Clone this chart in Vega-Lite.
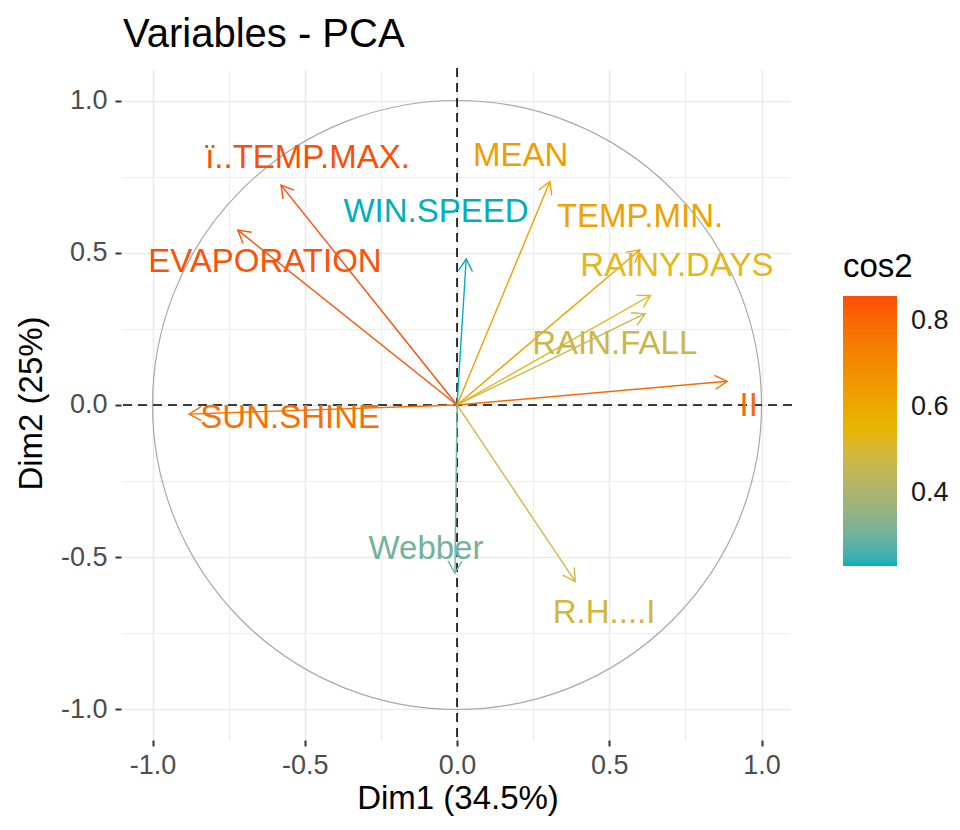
{
  "$schema": "https://vega.github.io/schema/vega-lite/v6.json",
  "width": 669,
  "height": 670,
  "autosize": "none",
  "padding": {"left": 123, "top": 68, "right": 168, "bottom": 92},
  "background": "white",
  "title": {"text": "Variables - PCA", "anchor": "start", "frame": "group", "fontSize": 40, "font": "Liberation Sans", "fontWeight": "normal", "color": "#000000", "offset": 12},
  "config": {
    "view": {"stroke": null},
    "axis": {
      "labelFont": "Liberation Sans", "labelFontSize": 27, "labelColor": "#4d4d4d",
      "titleFont": "Liberation Sans", "titleFontSize": 33, "titleFontWeight": "normal", "titleColor": "#000000",
      "domain": false, "tickColor": "#333333", "tickWidth": 2, "tickSize": 6, "offset": 2,
      "gridColor": "#ebebeb"
    },
    "legend": {"titleFont": "Liberation Sans", "labelFont": "Liberation Sans"}
  },
  "resolve": {"legend": {"color": "independent"}},
  "datasets": {
    "vars": [
      {"name": "ï..TEMP.MAX.", "x": -0.578, "y": 0.723, "cos2": 0.857, "lx": -0.491, "ly": 0.8125},
      {"name": "EVAPORATION", "x": -0.72, "y": 0.575, "cos2": 0.849, "lx": -0.631, "ly": 0.47},
      {"name": "SUN.SHINE", "x": -0.88, "y": -0.03, "cos2": 0.775, "lx": -0.548, "ly": -0.043},
      {"name": "WIN.SPEED", "x": 0.03, "y": 0.48, "cos2": 0.231, "lx": -0.069, "ly": 0.635},
      {"name": "MEAN", "x": 0.305, "y": 0.735, "cos2": 0.633, "lx": 0.209, "ly": 0.819},
      {"name": "TEMP.MIN.", "x": 0.6, "y": 0.51, "cos2": 0.62, "lx": 0.601, "ly": 0.618},
      {"name": "RAINY.DAYS", "x": 0.635, "y": 0.36, "cos2": 0.533, "lx": 0.722, "ly": 0.457},
      {"name": "RAIN.FALL", "x": 0.617, "y": 0.3, "cos2": 0.471, "lx": 0.518, "ly": 0.201},
      {"name": "II", "x": 0.887, "y": 0.078, "cos2": 0.793, "lx": 0.958, "ly": -0.003},
      {"name": "Webber", "x": -0.007, "y": -0.553, "cos2": 0.306, "lx": -0.102, "ly": -0.474},
      {"name": "R.H....I", "x": 0.388, "y": -0.58, "cos2": 0.487, "lx": 0.483, "ly": -0.684}
    ],
    "origin": [{"x": 0, "y": 0}]
  },
  "layer": [
    {
      "data": {"name": "origin"},
      "mark": {"type": "point", "shape": "circle", "size": 370881, "filled": false, "stroke": "#a8a8a8", "strokeWidth": 1.2, "opacity": 1},
      "encoding": {
        "x": {"field": "x", "type": "quantitative", "scale": {"domain": [-1.097, 1.1], "nice": false, "zero": false},
          "title": "Dim1 (34.5%)",
          "axis": {"values": [-1, -0.75, -0.5, -0.25, 0, 0.25, 0.5, 0.75, 1],
            "labelExpr": "datum.value % 0.5 == 0 ? replace(format(datum.value, '.1f'), '\u2212', '-') : ''",
            "tickOpacity": {"condition": {"test": "datum.value % 0.5 == 0", "value": 1}, "value": 0},
            "gridWidth": {"condition": {"test": "datum.value % 0.5 == 0", "value": 1.6}, "value": 0.9},
            "labelPadding": 6, "titlePadding": 4}},
        "y": {"field": "y", "type": "quantitative", "scale": {"domain": [-1.095, 1.108], "nice": false, "zero": false},
          "title": "Dim2 (25%)",
          "axis": {"values": [-1, -0.75, -0.5, -0.25, 0, 0.25, 0.5, 0.75, 1],
            "labelExpr": "datum.value % 0.5 == 0 ? replace(format(datum.value, '.1f'), '\u2212', '-') : ''",
            "tickOpacity": {"condition": {"test": "datum.value % 0.5 == 0", "value": 1}, "value": 0},
            "gridWidth": {"condition": {"test": "datum.value % 0.5 == 0", "value": 1.6}, "value": 0.9},
            "labelPadding": 8, "titlePadding": 12}}
      }
    },
    {
      "data": {"name": "origin"},
      "mark": {"type": "rule", "color": "#000000", "strokeWidth": 1.6, "strokeDash": [9, 6]},
      "encoding": {"x": {"field": "x", "type": "quantitative"}}
    },
    {
      "data": {"name": "origin"},
      "mark": {"type": "rule", "color": "#000000", "strokeWidth": 1.6, "strokeDash": [9, 6]},
      "encoding": {"y": {"field": "y", "type": "quantitative"}}
    },
    {
      "data": {"name": "vars"},
      "mark": {"type": "rule", "strokeWidth": 1.4},
      "encoding": {
        "x": {"field": "x", "type": "quantitative"},
        "y": {"field": "y", "type": "quantitative"},
        "x2": {"datum": 0},
        "y2": {"datum": 0},
        "color": {"field": "cos2", "type": "quantitative",
          "scale": {"domain": [0.231, 0.544, 0.857], "range": ["#00AFBB", "#E7B800", "#FC4E07"], "interpolate": "lab"},
          "legend": {"type": "gradient", "title": "cos2", "orient": "none", "legendX": 720, "legendY": 183, "direction": "vertical",
            "values": [0.4, 0.6, 0.8], "format": ".1f",
            "gradientLength": 270, "gradientThickness": 54, "gradientStrokeWidth": 0,
            "titleFontSize": 33, "titleFontWeight": "normal", "titleColor": "#000000", "titlePadding": 12,
            "labelFontSize": 27, "labelColor": "#1a1a1a", "labelOffset": 14}}
      }
    },
    {
      "data": {"name": "vars"},
      "mark": {"type": "point", "shape": "M-0.5,0.866L0,0L0.5,0.866", "size": 784, "filled": false, "strokeWidth": 1.4, "opacity": 1,
        "angle": {"expr": "atan2(datum.x, datum.y) * 180 / PI"}},
      "encoding": {
        "x": {"field": "x", "type": "quantitative"},
        "y": {"field": "y", "type": "quantitative"},
        "color": {"field": "cos2", "type": "quantitative", "legend": null}
      }
    },
    {
      "data": {"name": "vars"},
      "mark": {"type": "text", "font": "Liberation Sans", "fontSize": 33, "align": "center", "baseline": "middle"},
      "encoding": {
        "x": {"field": "lx", "type": "quantitative"},
        "y": {"field": "ly", "type": "quantitative"},
        "text": {"field": "name"},
        "color": {"field": "cos2", "type": "quantitative", "legend": null}
      }
    }
  ]
}
